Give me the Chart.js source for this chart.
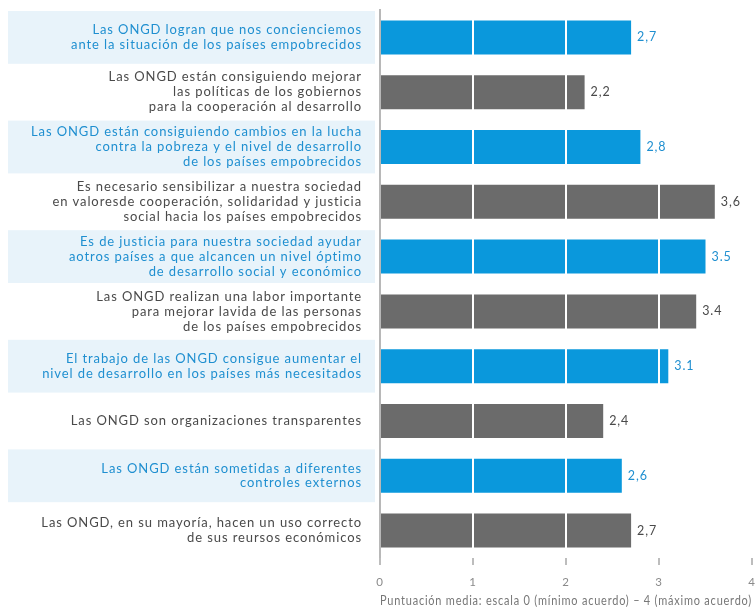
<!DOCTYPE html>
<html>
<head>
<meta charset="utf-8">
<script src="https://cdn.jsdelivr.net/npm/chart.js@4.4.0/dist/chart.umd.min.js"></script>
<style>
  body { margin: 0; background: #fff; }
  #wrap { width: 755px; height: 609px; }
</style>
</head>
<body>
<div id="wrap"><canvas id="ongd"></canvas></div>
<script>
var labels = [
  ["Las ONGD logran que nos concienciemos", "ante la situación de los países empobrecidos"],
  ["Las ONGD están consiguiendo mejorar", "las políticas de los gobiernos", "para la cooperación al desarrollo"],
  ["Las ONGD están consiguiendo cambios en la lucha", "contra la pobreza y el nivel de desarrollo", "de los países empobrecidos"],
  ["Es necesario sensibilizar a nuestra sociedad", "en valoresde cooperación, solidaridad y justicia", "social hacia los países empobrecidos"],
  ["Es de justicia para nuestra sociedad ayudar", "aotros países a que alcancen un nivel óptimo", "de desarrollo social y económico"],
  ["Las ONGD realizan una labor importante", "para mejorar lavida de las personas", "de los países empobrecidos"],
  ["El trabajo de las ONGD consigue aumentar el", "nivel de desarrollo en los países más necesitados"],
  ["Las ONGD son organizaciones transparentes"],
  ["Las ONGD están sometidas a diferentes", "controles externos"],
  ["Las ONGD, en su mayoría, hacen un uso correcto", "de sus reursos económicos"]
];
var values = [2.7, 2.2, 2.8, 3.6, 3.5, 3.4, 3.1, 2.4, 2.6, 2.7];
var valueText = ["2,7", "2,2", "2,8", "3,6", "3.5", "3.4", "3.1", "2,4", "2,6", "2,7"];
var xTicks = [0, 1, 2, 3, 4];

var blue = "#0a98dc";
var grey = "#6b6b6b";
var blueText = "#1f8fd0";
var greyText = "#4a4a4a";
var font = "Lato, sans-serif";

function isBlue(i) { return i % 2 === 0; }

// light blue bands behind the blue labels, plus a bit of tracking for all text
var bands = {
  id: "bands",
  beforeDraw: function (chart) {
    var ctx = chart.ctx, y = chart.scales.y;
    var step = y.getPixelForValue(1) - y.getPixelForValue(0);
    ctx.letterSpacing = "0.9px";
    ctx.save();
    ctx.fillStyle = "#e8f3fa";
    labels.forEach(function (l, i) {
      if (!isBlue(i)) return;
      var c = y.getPixelForValue(i);
      ctx.fillRect(8, c - step / 2 + 1, chart.chartArea.left - 13, step - 2);
    });
    ctx.restore();
  }
};

// numbers at the end of each bar
var endLabels = {
  id: "endLabels",
  afterDraw: function (chart) {
    var ctx = chart.ctx;
    var meta = chart.getDatasetMeta(0);
    ctx.save();
    ctx.font = "12.5px " + font;
    ctx.textBaseline = "middle";
    meta.data.forEach(function (bar, i) {
      ctx.fillStyle = isBlue(i) ? blueText : greyText;
      ctx.fillText(valueText[i], bar.x + 6, bar.y);
    });
    ctx.restore();
  }
};

new Chart("ongd", {
  type: "bar",
  data: {
    labels: labels,
    datasets: [{
      data: values,
      backgroundColor: values.map(function (v, i) { return isBlue(i) ? blue : grey; }),
      barPercentage: 0.62,
      categoryPercentage: 1
    }]
  },
  plugins: [bands, endLabels],
  options: {
    indexAxis: "y",
    responsive: true,
    maintainAspectRatio: false,
    animation: false,
    layout: { padding: { top: 10, right: 0, bottom: 0, left: 0 } },
    plugins: {
      legend: { display: false },
      tooltip: { enabled: false }
    },
    scales: {
      x: {
        min: 0,
        max: 4,
        afterBuildTicks: function (s) { s.ticks = xTicks.map(function (v) { return { value: v }; }); },
        afterFit: function (s) { s.height = 51; s.paddingLeft = 0; s.paddingRight = 3; },
        border: { display: false },
        grid: {
          z: 1,
          color: function (c) { return c.tick && c.tick.value === 0 ? "rgba(0,0,0,0)" : "#ffffff"; },
          lineWidth: 2,
          tickColor: "#bdbdbd",
          tickLength: 7
        },
        ticks: {
          color: "#8a8a8a",
          font: { family: font, size: 11.5 },
          padding: 10
        },
        title: {
          display: true,
          align: "end",
          text: "Puntuación media: escala 0 (mínimo acuerdo) – 4 (máximo acuerdo)",
          color: "#777",
          font: { family: font, size: 12.5 },
          padding: { top: 0, bottom: 1 }
        }
      },
      y: {
        afterFit: function (s) { s.width = 380; s.paddingTop = 0; s.paddingBottom = 0; },
        grid: { display: false },
        border: { display: true, color: "#b8b8b8", width: 2 },
        ticks: {
          color: function (c) { return isBlue(c.index) ? blueText : greyText; },
          font: { family: font, size: 13, lineHeight: 1.15 },
          padding: 10
        }
      }
    }
  }
});
</script>
</body>
</html>
